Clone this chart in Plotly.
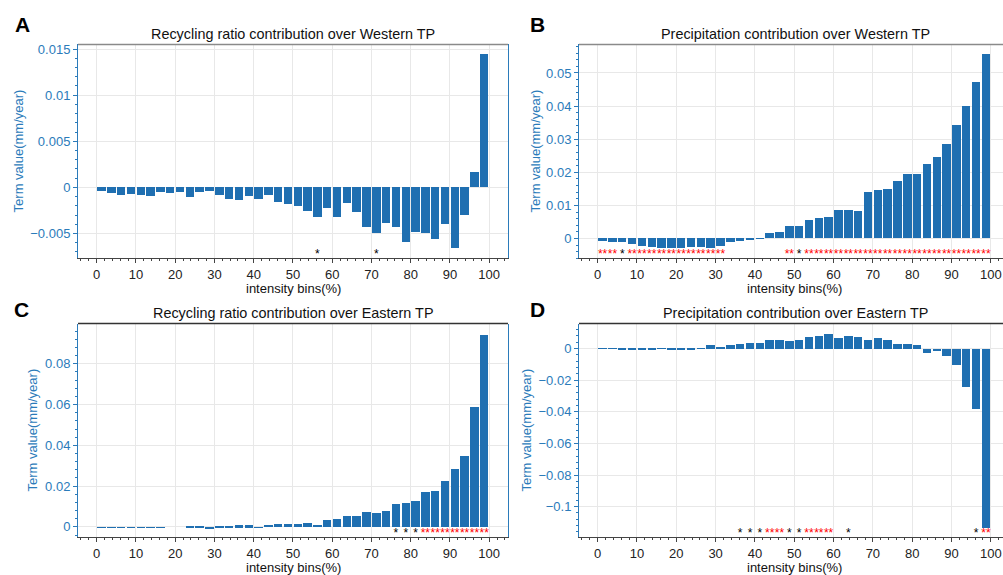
import plotly.graph_objects as go

# ---------------- data ----------------
bin_centers = [1.25, 3.75, 6.25, 8.75, 11.25, 13.75, 16.25, 18.75, 21.25, 23.75,
               26.25, 28.75, 31.25, 33.75, 36.25, 38.75, 41.25, 43.75, 46.25, 48.75,
               51.25, 53.75, 56.25, 58.75, 61.25, 63.75, 66.25, 68.75, 71.25, 73.75,
               76.25, 78.75, 81.25, 83.75, 86.25, 88.75, 91.25, 93.75, 96.25, 98.75]

recyc_west = [-0.0004, -0.00065, -0.0009, -0.0008, -0.00086, -0.001, -0.0006, -0.00065, -0.0006, -0.0011,
              -0.0006, -0.00047, -0.00086, -0.00126, -0.0014, -0.00097, -0.00126, -0.00083, -0.00165, -0.0019,
              -0.00208, -0.00266, -0.00327, -0.0023, -0.00327, -0.00172, -0.00273, -0.00434, -0.00502, -0.00395,
              -0.00434, -0.00603, -0.00484, -0.00499, -0.00567, -0.00405, -0.00664, -0.00305, 0.00158, 0.01439]

precip_west = [-0.0009, -0.0012, -0.0012, -0.0019, -0.0025, -0.0026, -0.0031, -0.0031, -0.0031, -0.0027,
               -0.0028, -0.003, -0.0024, -0.0012, -0.0009, -0.0004, -0.0002, 0.0016, 0.0019, 0.0037,
               0.0037, 0.0055, 0.0059, 0.0064, 0.0084, 0.0086, 0.0083, 0.014, 0.0144, 0.0147,
               0.0173, 0.0194, 0.0194, 0.0223, 0.0244, 0.0284, 0.0342, 0.04, 0.0471, 0.0556]

recyc_east = [-0.0001, -0.0002, -0.0002, -0.0002, -0.0001, -0.0001, -0.0001, 0.0, 0.0, 0.0002,
              0.0007, -0.0005, 0.0005, 0.0008, 0.0009, 0.0009, 0.0001, 0.0011, 0.0018, 0.0014,
              0.0016, 0.0019, 0.0011, 0.0034, 0.0041, 0.0057, 0.0054, 0.0076, 0.0068, 0.0081,
              0.0112, 0.0119, 0.0128, 0.0172, 0.0177, 0.0229, 0.0286, 0.0348, 0.0592, 0.0945]

precip_east = [-0.0001, -0.0001, -0.0003, -0.0003, -0.0004, -0.0004, -0.0001, -0.0002, -0.0002, -0.0002,
               -0.0001, 0.0023, 0.0012, 0.0023, 0.0031, 0.004, 0.0034, 0.0053, 0.0057, 0.005,
               0.0057, 0.0075, 0.008, 0.0094, 0.0067, 0.0082, 0.0078, 0.0057, 0.0069, 0.0053,
               0.0031, 0.0032, 0.0023, -0.0025, -0.0014, -0.0047, -0.0102, -0.0239, -0.0379, -0.1133]

# significance per bin: 0 = none, 1 = "*" (black), 2 = "**" (red)
sig_recyc_west = [0, 0, 0, 0, 0, 0, 0, 0, 0, 0,
                  0, 0, 0, 0, 0, 0, 0, 0, 0, 0,
                  0, 0, 1, 0, 0, 0, 0, 0, 1, 0,
                  0, 0, 0, 0, 0, 0, 0, 0, 0, 0]
sig_precip_west = [2, 2, 1, 2, 2, 2, 2, 2, 2, 2,
                   2, 2, 2, 0, 0, 0, 0, 0, 0, 2,
                   1, 2, 2, 2, 2, 2, 2, 2, 2, 2,
                   2, 2, 2, 2, 2, 2, 2, 2, 2, 2]
sig_recyc_east = [0, 0, 0, 0, 0, 0, 0, 0, 0, 0,
                  0, 0, 0, 0, 0, 0, 0, 0, 0, 0,
                  0, 0, 0, 0, 0, 0, 0, 0, 0, 0,
                  1, 1, 1, 2, 2, 2, 2, 2, 2, 2]
sig_precip_east = [0, 0, 0, 0, 0, 0, 0, 0, 0, 0,
                   0, 0, 0, 0, 1, 1, 1, 2, 2, 1,
                   1, 2, 2, 2, 0, 1, 0, 0, 0, 0,
                   0, 0, 0, 0, 0, 0, 0, 0, 1, 2]

titles = ["Recycling ratio contribution over Western TP",
          "Precipitation contribution over Western TP",
          "Recycling ratio contribution over Eastern TP",
          "Precipitation contribution over Eastern TP"]
letters = ["A", "B", "C", "D"]
x_ticks = [0, 10, 20, 30, 40, 50, 60, 70, 80, 90, 100]

# ---------------- layout geometry ----------------
W, H = 1003, 575
FONT = "Liberation Sans, Arial, Helvetica, sans-serif"
BLUE = "#2b7bba"
BAR = "#1f6fb1"

panels = [
    dict(vals=recyc_west, sig=sig_recyc_west, xpx=(78, 508), ypx=(41.7, 256.7),
         yr=[-0.0077, 0.0155], dt=0.005, mdt=0.001, xr=[-4.75, 104.8], mirror=True,
         top="#8a8a8a", ytitle_x=18, letter=(22, 22), title_x=293, xtitle_x=293),
    dict(vals=precip_west, sig=sig_precip_west, xpx=(579, 1003), ypx=(41.7, 256.7),
         yr=[-0.006, 0.0586], dt=0.01, mdt=0.002, xr=[-4.75, 103.1], mirror=False,
         top="#8a8a8a", ytitle_x=535, letter=(537, 22), title_x=795, xtitle_x=794),
    dict(vals=recyc_east, sig=sig_recyc_east, xpx=(78, 508), ypx=(322.3, 537.3),
         yr=[-0.0052, 0.0997], dt=0.02, mdt=0.004, xr=[-4.75, 104.8], mirror=True,
         top="#333333", ytitle_x=33, letter=(21, 308), title_x=293, xtitle_x=293),
    dict(vals=precip_east, sig=sig_precip_east, xpx=(579, 1003), ypx=(322.3, 537.3),
         yr=[-0.1195, 0.0157], dt=0.02, mdt=0.004, xr=[-4.75, 103.1], mirror=False,
         top="#333333", ytitle_x=527, letter=(537, 308), title_x=795, xtitle_x=794),
]

fig = go.Figure()
annotations = []
shapes = []
layout = {}

for i, p in enumerate(panels):
    k = "" if i == 0 else str(i + 1)
    xa, ya = "x" + k, "y" + k
    fig.add_trace(go.Bar(x=bin_centers, y=p["vals"], width=2.15, marker=dict(color=BAR, line=dict(width=0)),
                         xaxis=xa, yaxis=ya, showlegend=False))
    # significance stars
    ymin, ymax = p["yr"]
    star_y = ymin + 0.014 * (ymax - ymin)
    for level, txt, col in [(1, "*", "black"), (2, "**", "red")]:
        xs = [c for c, s in zip(bin_centers, p["sig"]) if s == level]
        if xs:
            fig.add_trace(go.Scatter(x=xs, y=[star_y] * len(xs), mode="text", text=[txt] * len(xs),
                                     textposition="middle center", cliponaxis=False,
                                     textfont=dict(size=12, color=col, family=FONT),
                                     xaxis=xa, yaxis=ya, showlegend=False, hoverinfo="skip"))
    x0, x1 = p["xpx"]
    yt, yb = p["ypx"]
    layout["xaxis" + k] = dict(
        domain=[x0 / W, x1 / W], anchor=ya, range=p["xr"], tickvals=x_ticks,
        ticks="outside", ticklen=4, tickwidth=1, tickcolor="#444",
        minor=dict(dtick=2, tick0=0, ticks="outside", ticklen=2, tickcolor="#444", showgrid=False),
        showline=True, linecolor="#444", linewidth=1, mirror=False,
        showgrid=True, gridcolor="#e8e8e8", gridwidth=1, zeroline=False,
        tickfont=dict(size=13, color="#222", family=FONT),
    )
    layout["yaxis" + k] = dict(
        domain=[1 - yb / H, 1 - yt / H], anchor=xa, range=p["yr"], dtick=p["dt"], tick0=0,
        ticks="outside", ticklen=4, tickwidth=1, tickcolor=BLUE,
        minor=dict(dtick=p["mdt"], tick0=0, ticks="outside", ticklen=2, tickcolor=BLUE, showgrid=False),
        showline=True, linecolor=BLUE, linewidth=1, mirror=p["mirror"],
        showgrid=True, gridcolor="#e8e8e8", gridwidth=1, zeroline=False,
        tickfont=dict(size=13, color=BLUE, family=FONT),
    )
    # top spine
    shapes.append(dict(type="line", xref=xa + " domain", yref=ya + " domain", x0=0, x1=1, y0=1, y1=1,
                       line=dict(color=p["top"], width=1.5)))
    # title
    annotations.append(dict(text=titles[i], xref="paper", yref="paper", x=p["title_x"] / W,
                            y=1 - (yt - 11) / H, xanchor="center", yanchor="middle", showarrow=False,
                            font=dict(size=14.4, color="#111", family=FONT)))
    # panel letter
    lx, ly = p["letter"]
    annotations.append(dict(text="<b>" + letters[i] + "</b>", xref="paper", yref="paper", x=lx / W,
                            y=1 - ly / H, xanchor="center", yanchor="middle", showarrow=False,
                            font=dict(size=21, color="#000", family=FONT)))
    # y title
    annotations.append(dict(text="Term value(mm/year)", xref="paper", yref="paper",
                            x=p["ytitle_x"] / W, y=1 - (yt + yb) / 2 / H, textangle=-90,
                            xanchor="center", yanchor="middle", showarrow=False,
                            font=dict(size=13, color=BLUE, family=FONT)))
    # x title
    annotations.append(dict(text="intensity bins(%)", xref="paper", yref="paper",
                            x=p["xtitle_x"] / W,
                            y=1 - (yb + 30) / H, xanchor="center", yanchor="middle", showarrow=False,
                            font=dict(size=13, color="#111", family=FONT)))

fig.update_layout(
    width=W, height=H, margin=dict(l=0, r=0, t=0, b=0),
    paper_bgcolor="white", plot_bgcolor="white", bargap=0,
    annotations=annotations, shapes=shapes, **layout,
)

fig.write_html("out.html", config={"displayModeBar": False},
               post_script="document.body.style.margin='0';document.body.style.overflow='hidden';")
